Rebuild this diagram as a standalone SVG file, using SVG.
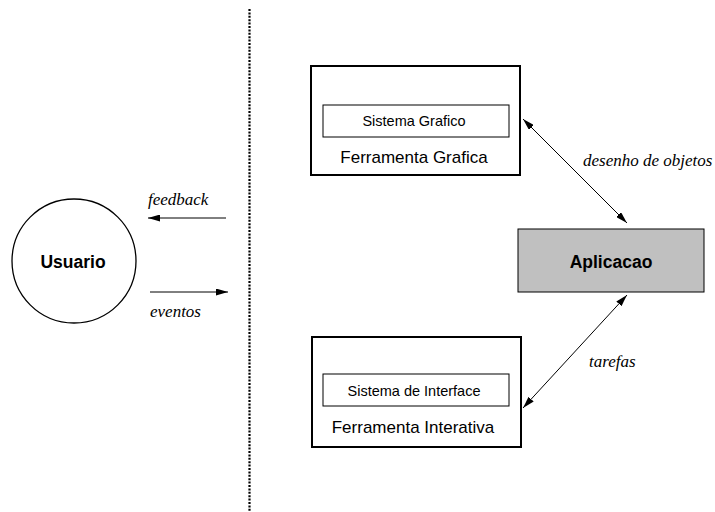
<svg xmlns="http://www.w3.org/2000/svg" width="715" height="512" viewBox="0 0 715 512">
  <style>
    .box { fill: #ffffff; stroke: #000000; stroke-width: 2; }
    .inner { fill: #ffffff; stroke: #000000; stroke-width: 1; }
    .app { fill: #c0c0c0; stroke: #000000; stroke-width: 1; }
    .sans { font-family: "Liberation Sans", Arial, sans-serif; fill: #000000; text-anchor: middle; }
    .bold { font-weight: bold; font-size: 17.5px; }
    .lbl { font-size: 17px; }
    .small { font-size: 14.5px; }
    .it { font-family: "Liberation Serif", "Times New Roman", serif; font-style: italic; font-size: 17px; fill: #000000; }
    .conn { stroke: #000000; stroke-width: 1; fill: none; }
  </style>
  <defs>
    <marker id="head" viewBox="0 0 12 7" refX="12" refY="3.5" markerWidth="12" markerHeight="7" markerUnits="userSpaceOnUse" orient="auto-start-reverse">
      <path d="M0,0 L12,3.5 L0,7 Z" fill="#000000"/>
    </marker>
  </defs>

  <rect width="715" height="512" fill="#ffffff"/>

  <!-- boundary between user and system -->
  <line x1="249.5" y1="9" x2="249.5" y2="511" stroke="#000000" stroke-width="2.2" stroke-dasharray="2 1.4"/>

  <g id="usuario">
    <circle cx="74" cy="261" r="62" fill="#ffffff" stroke="#000000" stroke-width="1.3"/>
    <text class="sans bold" x="73" y="268">Usuario</text>
  </g>

  <g id="ferramenta-grafica">
    <rect class="box" x="311" y="66" width="209" height="109"/>
    <rect class="inner" x="323" y="105" width="186" height="32"/>
    <text class="sans small" x="414" y="126">Sistema Grafico</text>
    <text class="sans lbl" x="414" y="163">Ferramenta Grafica</text>
  </g>

  <g id="ferramenta-interativa">
    <rect class="box" x="312" y="337" width="209" height="110"/>
    <rect class="inner" x="323" y="374" width="186" height="32"/>
    <text class="sans small" x="414" y="396">Sistema de Interface</text>
    <text class="sans lbl" x="413" y="433">Ferramenta Interativa</text>
  </g>

  <g id="aplicacao">
    <rect class="app" x="518" y="229" width="186" height="63"/>
    <text class="sans bold" x="611" y="268">Aplicacao</text>
  </g>

  <g id="connectors">
    <line class="conn" x1="226" y1="218" x2="148" y2="218" marker-end="url(#head)"/>
    <line class="conn" x1="150" y1="292" x2="228" y2="292" marker-end="url(#head)"/>
    <line class="conn" x1="523" y1="119" x2="627" y2="223" marker-start="url(#head)" marker-end="url(#head)"/>
    <line class="conn" x1="627" y1="295" x2="523" y2="408" marker-start="url(#head)" marker-end="url(#head)"/>
    <text class="it" x="148" y="205">feedback</text>
    <text class="it" x="150" y="317">eventos</text>
    <text class="it" x="583" y="166">desenho de objetos</text>
    <text class="it" x="589" y="367">tarefas</text>
  </g>
</svg>
